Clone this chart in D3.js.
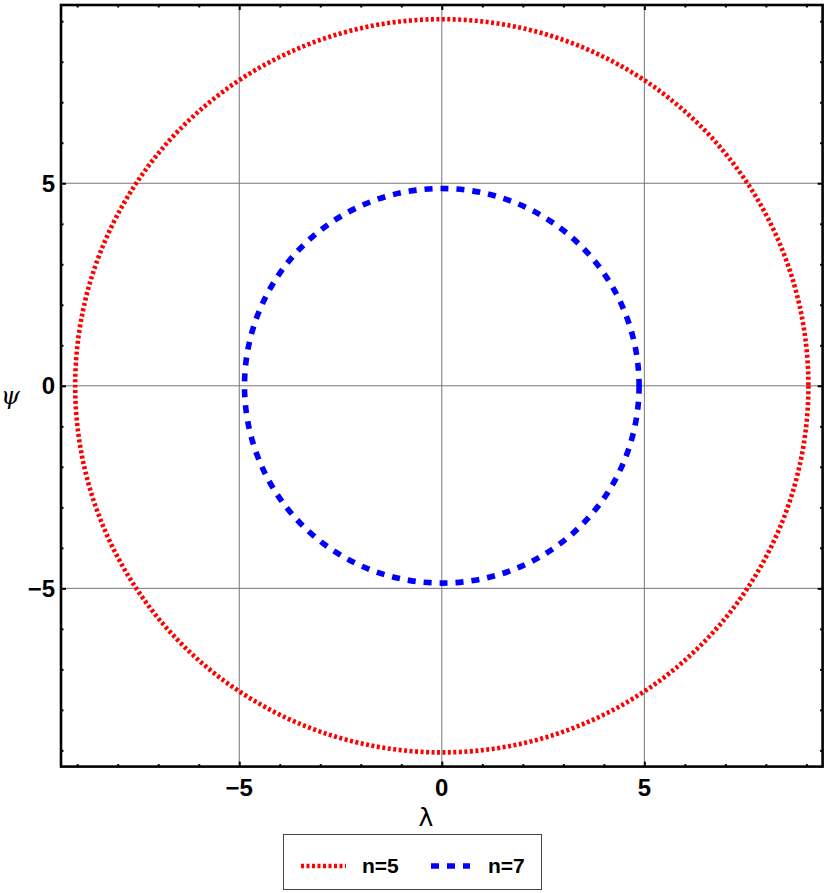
<!DOCTYPE html>
<html><head><meta charset="utf-8">
<script src="https://cdn.jsdelivr.net/npm/d3@7"></script>
<style>body{margin:0;background:#fff}</style>
</head><body>
<svg id="c" width="826" height="893"></svg>
<script>
const seriesNames = ["n=5", "n=7"];
const seriesRadius = [9.05, 4.87];
const seriesColors = ["#ff0000", "#0000ff"];
const majorTicks = [-5, 0, 5];
const minorTicks = [-9,-8,-7,-6,-4,-3,-2,-1,1,2,3,4,6,7,8,9];
const xDomain = [-9.4, 9.4];
const yDomain = [-9.4, 9.4];

const svg = d3.select("#c");
const x = d3.scaleLinear().domain(xDomain).range([61, 822.6]);
const y = d3.scaleLinear().domain(yDomain).range([766.6, 5.0]);

const fmt = d => d < 0 ? "\u2212" + Math.abs(d) : String(d);

// grid
const g = svg.append("g");
g.selectAll(".gx").data(majorTicks).enter().append("line")
  .attr("x1", d => x(d)).attr("x2", d => x(d)).attr("y1", y.range()[0]).attr("y2", y.range()[1])
  .attr("stroke", "#777").attr("stroke-width", 1);
g.selectAll(".gy").data(majorTicks).enter().append("line")
  .attr("y1", d => y(d)).attr("y2", d => y(d)).attr("x1", x.range()[0]).attr("x2", x.range()[1])
  .attr("stroke", "#777").attr("stroke-width", 1);

// curves
const dashes = ["3,2.5", "8,8"];
const widths = [4.6, 5.6];
svg.append("g").selectAll("circle").data(seriesRadius).enter().append("circle")
  .attr("cx", x(0)).attr("cy", y(0))
  .attr("r", d => x(d) - x(0))
  .attr("fill", "none")
  .attr("stroke", (d, i) => seriesColors[i])
  .attr("stroke-width", (d, i) => widths[i])
  .attr("stroke-dasharray", (d, i) => dashes[i]);

// axes with inward ticks
function addAxis(axisFn, scale, transform, values, size) {
  const a = svg.append("g").attr("transform", transform)
    .call(axisFn(scale).tickValues(values).tickSize(size).tickFormat(""));
  a.select(".domain").remove();
  a.selectAll("line").attr("stroke", "#000").attr("stroke-width", 2);
  return a;
}
const L = x.range()[0], R = x.range()[1], B = y.range()[0], T = y.range()[1];
addAxis(d3.axisBottom, x, `translate(0,${B})`, majorTicks, -5);
addAxis(d3.axisBottom, x, `translate(0,${B})`, minorTicks, -2.5);
addAxis(d3.axisTop, x, `translate(0,${T})`, majorTicks, -5);
addAxis(d3.axisTop, x, `translate(0,${T})`, minorTicks, -2.5);
addAxis(d3.axisLeft, y, `translate(${L},0)`, majorTicks, -5);
addAxis(d3.axisLeft, y, `translate(${L},0)`, minorTicks, -2.5);
addAxis(d3.axisRight, y, `translate(${R},0)`, majorTicks, -5);
addAxis(d3.axisRight, y, `translate(${R},0)`, minorTicks, -2.5);

// frame
svg.append("rect").attr("x", L).attr("y", T).attr("width", R - L).attr("height", B - T)
  .attr("fill", "none").attr("stroke", "#000").attr("stroke-width", 2.6);

// tick labels
const font = "'Liberation Sans', Arial, sans-serif";
svg.append("g").selectAll("text").data(majorTicks).enter().append("text")
  .attr("x", d => x(d)).attr("y", B + 29)
  .attr("text-anchor", "middle").attr("font-family", font).attr("font-size", 24).attr("font-weight", "bold")
  .text(fmt);
svg.append("g").selectAll("text").data(majorTicks).enter().append("text")
  .attr("x", L - 6).attr("y", d => y(d) + 8.5)
  .attr("text-anchor", "end").attr("font-family", font).attr("font-size", 24).attr("font-weight", "bold")
  .text(fmt);

// axis labels
svg.append("text").attr("x", 426).attr("y", 826).attr("text-anchor", "middle")
  .attr("font-family", "'DejaVu Sans', sans-serif").attr("font-size", 25).text("\u03bb");
svg.append("text").attr("x", 10.5).attr("y", 404).attr("text-anchor", "middle")
  .attr("font-family", "'DejaVu Serif', serif").attr("font-style", "italic").attr("font-size", 24).text("\u03c8");

// legend
const lg = svg.append("g");
lg.append("rect").attr("x", 283.5).attr("y", 834.5).attr("width", 258).attr("height", 55)
  .attr("fill", "#fff").attr("stroke", "#444").attr("stroke-width", 1);
const sampleX = [[301, 346], [431, 470]];
const textX = [362, 488];
seriesNames.forEach((n, i) => {
  lg.append("line").attr("x1", sampleX[i][0]).attr("x2", sampleX[i][1]).attr("y1", 866).attr("y2", 866)
    .attr("stroke", seriesColors[i]).attr("stroke-width", widths[i]).attr("stroke-dasharray", dashes[i]);
  lg.append("text").attr("x", textX[i]).attr("y", 873)
    .attr("font-family", font).attr("font-size", 21).attr("font-weight", "bold").text(n);
});
</script>
</body></html>
